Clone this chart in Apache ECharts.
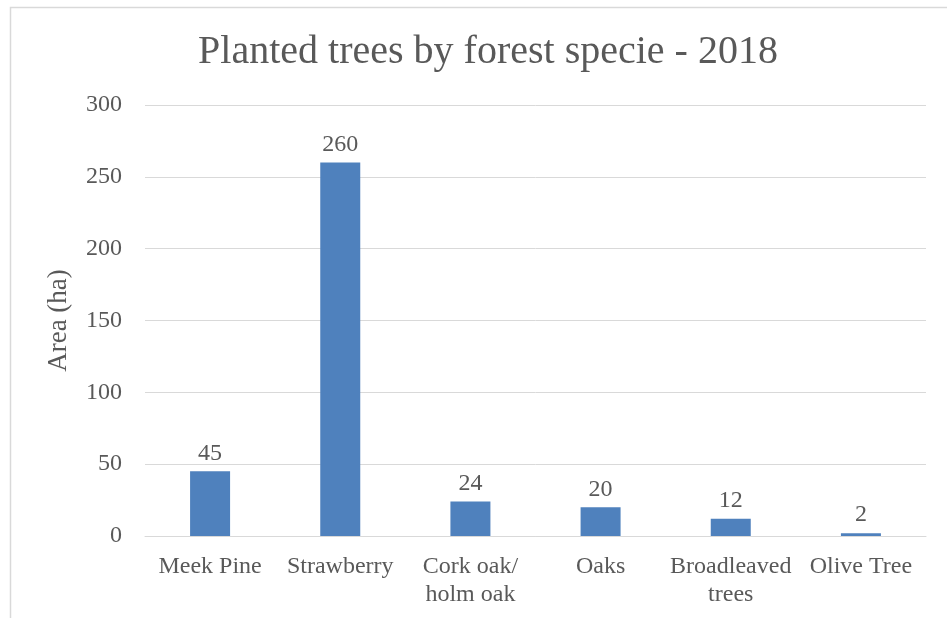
<!DOCTYPE html>
<html>
<head>
<meta charset="utf-8">
<script src="https://cdn.jsdelivr.net/npm/echarts@6/dist/echarts.min.js"></script>
<style>
  html, body { margin: 0; padding: 0; background: #ffffff; }
  #chart { width: 947px; height: 618px; }
</style>
</head>
<body>
<div id="chart"></div>
<script>
// Planted area per forest species, 2018
const categories = ['Meek Pine', 'Strawberry', 'Cork oak/\nholm oak', 'Oaks', 'Broadleaved\ntrees', 'Olive Tree'];
const areaValues = [45, 260, 24, 20, 12, 2];
const yTicks = { min: 0, max: 300, interval: 50 };

const FONT = '"Liberation Serif", "DejaVu Serif", serif';
const TEXT = '#595959';

const chart = echarts.init(document.getElementById('chart'), null, { renderer: 'canvas' });
chart.setOption({
  animation: false,
  backgroundColor: '#ffffff',
  graphic: [{
    type: 'rect',
    shape: { x: 10.5, y: 7.5, width: 1000, height: 700 },
    style: { fill: 'none', stroke: '#d9d9d9', lineWidth: 1.5 },
    silent: true
  }],
  title: {
    text: 'Planted trees by forest specie - 2018',
    left: 483,
    textAlign: 'center',
    top: 27,
    textStyle: { fontFamily: FONT, fontSize: 40, fontWeight: 'normal', color: TEXT }
  },
  grid: { left: 145, right: 21, top: 105, bottom: 82, containLabel: false },
  xAxis: {
    type: 'category',
    data: categories,
    axisLine: { show: true, lineStyle: { color: '#d9d9d9', width: 1 } },
    axisTick: { show: false },
    axisLabel: {
      interval: 0,
      margin: 17,
      fontFamily: FONT, fontSize: 24, color: TEXT, lineHeight: 28
    }
  },
  yAxis: {
    type: 'value',
    min: yTicks.min, max: yTicks.max, interval: yTicks.interval,
    name: 'Area (ha)',
    nameLocation: 'middle',
    nameGap: 73,
    nameTextStyle: { fontFamily: FONT, fontSize: 27, color: TEXT },
    axisLine: { show: false },
    axisTick: { show: false },
    axisLabel: { margin: 23, fontFamily: FONT, fontSize: 24, color: TEXT },
    splitLine: { lineStyle: { color: '#d9d9d9', width: 1 } }
  },
  series: [{
    type: 'bar',
    data: areaValues,
    barWidth: 40,
    itemStyle: { color: '#4f81bd' },
    label: {
      show: true, position: 'top', distance: 6,
      fontFamily: FONT, fontSize: 24, color: TEXT
    }
  }]
});
</script>
</body>
</html>
